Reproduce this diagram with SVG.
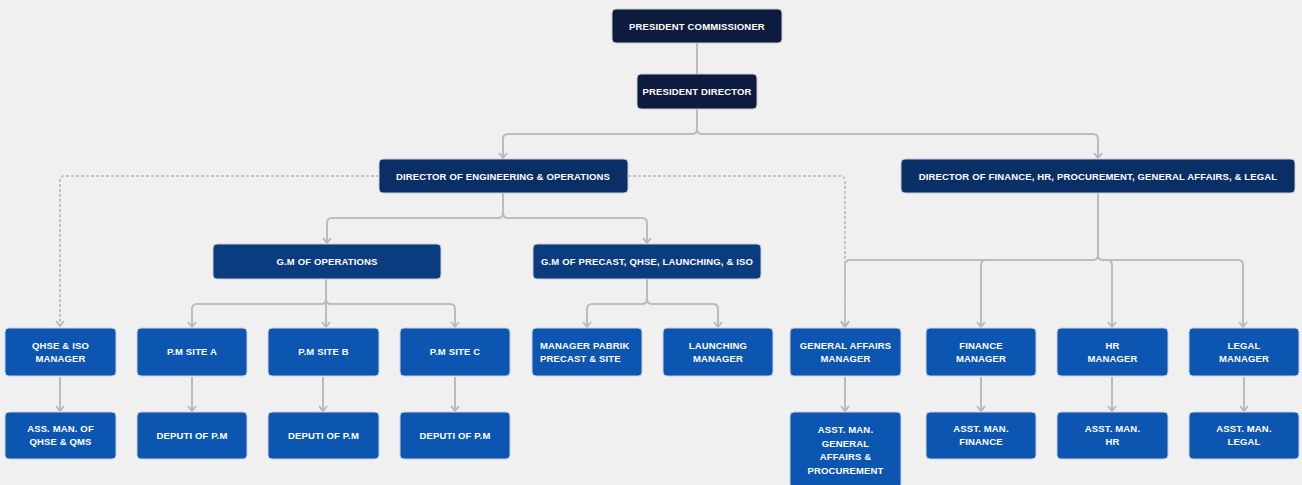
<svg xmlns="http://www.w3.org/2000/svg" width="1302" height="485" viewBox="0 0 1302 485">
<defs>
<marker id="arrv" viewBox="0 0 10 10" refX="8" refY="5" markerWidth="10" markerHeight="10" markerUnits="userSpaceOnUse" orient="auto">
<path d="M3,1 L8,5 L3,9" fill="none" stroke="#b9b9b9" stroke-width="1.8"/>
</marker>
</defs>
<style>
.bg{fill:#f0f0f0}
.c{fill:none;stroke:#bcbcbc;stroke-width:2}
.d{fill:none;stroke:#c4c4c4;stroke-width:2;stroke-dasharray:3 2}
.top{fill:#0d1b3e;stroke:#c9ccd3;stroke-width:1}
.dir{fill:#0a2f67;stroke:#c9ccd3;stroke-width:1}
.gm{fill:#0b3c7f;stroke:#c9ccd3;stroke-width:1}
.mgr{fill:#0c56b2;stroke:#c9d2de;stroke-width:1}
text{fill:#ffffff;font-family:"Liberation Sans",Arial,sans-serif;font-weight:bold;font-size:9.5px;letter-spacing:0.15px;text-anchor:middle}
</style>
<rect class="bg" x="0" y="0" width="1302" height="485"/>
<g id="connectors">
<path class="c" d="M697,43 V74"/>
<path class="c" d="M697,109 V129 Q697,134 692,134 H508 Q503,134 503,139 V158" marker-end="url(#arrv)"/>
<path class="c" d="M697,129 Q697,134 702,134 H1093 Q1098,134 1098,139 V158" marker-end="url(#arrv)"/>
<path class="c" d="M503,193 V213 Q503,218 498,218 H332 Q327,218 327,223 V243" marker-end="url(#arrv)"/>
<path class="c" d="M503,213 Q503,218 508,218 H642 Q647,218 647,223 V243" marker-end="url(#arrv)"/>
<path class="c" d="M326,279 V299 Q326,304 321,304 H197 Q192,304 192,309 V327" marker-end="url(#arrv)"/>
<path class="c" d="M326,299 V327" marker-end="url(#arrv)"/>
<path class="c" d="M326,299 Q326,304 331,304 H450 Q455,304 455,309 V327" marker-end="url(#arrv)"/>
<path class="c" d="M647,279 V299 Q647,304 642,304 H592 Q587,304 587,309 V327" marker-end="url(#arrv)"/>
<path class="c" d="M647,299 Q647,304 652,304 H713 Q718,304 718,309 V327" marker-end="url(#arrv)"/>
<path class="c" d="M1098,193 V255 Q1098,260 1093,260 H850 Q845,260 845,265 V327" marker-end="url(#arrv)"/>
<path class="c" d="M1098,255 Q1098,260 1103,260 H1238 Q1243,260 1243,265 V327" marker-end="url(#arrv)"/>
<path class="c" d="M986,260 Q981,260 981,265 V327" marker-end="url(#arrv)"/>
<path class="c" d="M1107,260 Q1112,260 1112,265 V327" marker-end="url(#arrv)"/>
<path class="d" d="M379,176 H65 Q60,176 60,181 V326" marker-end="url(#arrv)"/>
<path class="d" d="M628,176 H840 Q845,176 845,181 V326" marker-end="url(#arrv)"/>
<path class="c" d="M60,377 V411" marker-end="url(#arrv)"/>
<path class="c" d="M192,377 V411" marker-end="url(#arrv)"/>
<path class="c" d="M323,377 V411" marker-end="url(#arrv)"/>
<path class="c" d="M455,377 V411" marker-end="url(#arrv)"/>
<path class="c" d="M845,377 V411" marker-end="url(#arrv)"/>
<path class="c" d="M981,377 V411" marker-end="url(#arrv)"/>
<path class="c" d="M1112,377 V411" marker-end="url(#arrv)"/>
<path class="c" d="M1244,377 V411" marker-end="url(#arrv)"/>
</g>
<g id="president-commissioner"><rect class="top" x="612" y="9" width="170" height="34" rx="4"/><text x="697" y="29.5">PRESIDENT COMMISSIONER</text></g>
<g id="president-director"><rect class="top" x="637" y="74" width="120" height="35" rx="4"/><text x="697" y="95">PRESIDENT DIRECTOR</text></g>
<g id="director-eng"><rect class="dir" x="379" y="159" width="249" height="34" rx="4"/><text x="503" y="179.5">DIRECTOR OF ENGINEERING &amp; OPERATIONS</text></g>
<g id="director-fin"><rect class="dir" x="901" y="159" width="394" height="34" rx="4"/><text x="1098" y="179.5">DIRECTOR OF FINANCE, HR, PROCUREMENT, GENERAL AFFAIRS, &amp; LEGAL</text></g>
<g id="gm-ops"><rect class="gm" x="213" y="244" width="228" height="35" rx="4"/><text x="327" y="265">G.M OF OPERATIONS</text></g>
<g id="gm-precast"><rect class="gm" x="533" y="244" width="228" height="35" rx="4"/><text x="647" y="265">G.M OF PRECAST, QHSE, LAUNCHING, &amp; ISO</text></g>
<g id="qhse-mgr"><rect class="mgr" x="5" y="328" width="111" height="48" rx="4"/><text x="60.5" y="349">QHSE &amp; ISO</text><text x="60.5" y="362">MANAGER</text></g>
<g id="pm-a"><rect class="mgr" x="137" y="328" width="110" height="48" rx="4"/><text x="192" y="355">P.M SITE A</text></g>
<g id="pm-b"><rect class="mgr" x="268" y="328" width="111" height="48" rx="4"/><text x="323.5" y="355">P.M SITE B</text></g>
<g id="pm-c"><rect class="mgr" x="400" y="328" width="110" height="48" rx="4"/><text x="455" y="355">P.M SITE C</text></g>
<g id="mgr-pabrik"><rect class="mgr" x="532" y="328" width="110" height="48" rx="4"/><text x="540" y="349" style="text-anchor:start">MANAGER PABRIK</text><text x="540" y="362" style="text-anchor:start">PRECAST &amp; SITE</text></g>
<g id="launching-mgr"><rect class="mgr" x="663" y="328" width="110" height="48" rx="4"/><text x="718" y="349">LAUNCHING</text><text x="718" y="362">MANAGER</text></g>
<g id="ga-mgr"><rect class="mgr" x="790" y="328" width="111" height="48" rx="4"/><text x="845.5" y="349">GENERAL AFFAIRS</text><text x="845.5" y="362">MANAGER</text></g>
<g id="fin-mgr"><rect class="mgr" x="926" y="328" width="110" height="48" rx="4"/><text x="981" y="349">FINANCE</text><text x="981" y="362">MANAGER</text></g>
<g id="hr-mgr"><rect class="mgr" x="1057" y="328" width="111" height="48" rx="4"/><text x="1112.5" y="349">HR</text><text x="1112.5" y="362">MANAGER</text></g>
<g id="legal-mgr"><rect class="mgr" x="1189" y="328" width="110" height="48" rx="4"/><text x="1244" y="349">LEGAL</text><text x="1244" y="362">MANAGER</text></g>
<g id="ass-qhse"><rect class="mgr" x="5" y="412" width="111" height="47" rx="4"/><text x="60.5" y="432">ASS. MAN. OF</text><text x="60.5" y="445">QHSE &amp; QMS</text></g>
<g id="dep-a"><rect class="mgr" x="137" y="412" width="110" height="47" rx="4"/><text x="192" y="439">DEPUTI OF P.M</text></g>
<g id="dep-b"><rect class="mgr" x="268" y="412" width="111" height="47" rx="4"/><text x="323.5" y="439">DEPUTI OF P.M</text></g>
<g id="dep-c"><rect class="mgr" x="400" y="412" width="110" height="47" rx="4"/><text x="455" y="439">DEPUTI OF P.M</text></g>
<g id="asst-ga"><rect class="mgr" x="790" y="412" width="111" height="76" rx="4"/><text x="845.5" y="433">ASST. MAN.</text><text x="845.5" y="446.5">GENERAL</text><text x="845.5" y="460">AFFAIRS &amp;</text><text x="845.5" y="473.5">PROCUREMENT</text></g>
<g id="asst-fin"><rect class="mgr" x="926" y="412" width="110" height="47" rx="4"/><text x="981" y="432">ASST. MAN.</text><text x="981" y="445">FINANCE</text></g>
<g id="asst-hr"><rect class="mgr" x="1057" y="412" width="111" height="47" rx="4"/><text x="1112.5" y="432">ASST. MAN.</text><text x="1112.5" y="445">HR</text></g>
<g id="asst-legal"><rect class="mgr" x="1189" y="412" width="110" height="47" rx="4"/><text x="1244" y="432">ASST. MAN.</text><text x="1244" y="445">LEGAL</text></g>
</svg>
